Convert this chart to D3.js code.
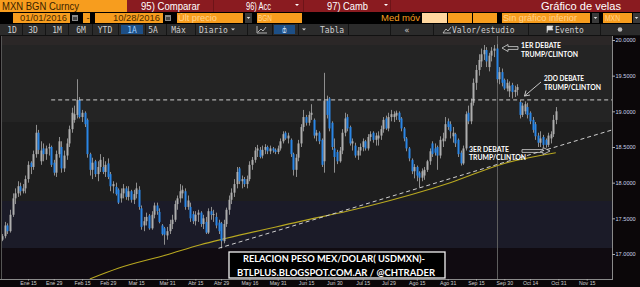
<!DOCTYPE html>
<html><head><meta charset="utf-8">
<script src="https://cdnjs.cloudflare.com/ajax/libs/d3/7.8.5/d3.min.js"></script>
<style>body{margin:0;background:#000;overflow:hidden}svg{display:block}</style>
</head><body>
<svg id="c" width="640" height="287"></svg>
<script>
// ---------- DATA (USD/MXN daily) ----------
const O=[17.20,17.25,17.40,17.32,17.55,17.78,17.85,17.95,17.88,17.92,18.05,18.28,18.22,18.40,18.70,18.30,18.48,18.40,18.48,18.50,18.28,18.14,18.40,18.50,18.20,18.38,18.55,18.75,18.88,18.95,19.16,18.92,18.98,18.88,18.40,18.18,18.30,18.12,18.22,18.22,18.15,18.27,18.12,17.95,17.94,17.90,17.78,17.85,17.92,17.80,17.88,17.76,17.84,17.90,17.64,17.40,17.46,17.54,17.36,17.55,17.68,17.59,17.40,17.36,17.26,17.32,17.42,17.48,17.70,17.78,17.85,17.88,17.66,17.66,17.56,17.46,17.55,17.58,17.42,17.45,17.30,17.60,17.55,17.52,17.44,17.43,17.18,17.42,17.62,17.76,17.86,17.98,18.20,18.02,18.05,17.98,18.05,18.25,18.32,18.45,18.46,18.38,18.46,18.50,18.44,18.48,18.46,18.43,18.48,18.58,18.70,18.62,18.60,18.40,18.18,18.35,18.55,18.78,18.92,18.84,18.95,18.88,18.66,18.70,18.60,18.30,19.15,19.18,18.84,18.48,18.43,18.30,18.45,18.70,18.92,18.78,18.55,18.52,18.38,18.45,18.50,18.58,18.48,18.64,18.70,18.60,18.62,18.66,18.75,18.90,18.76,18.92,18.92,18.94,18.98,18.90,18.76,18.62,18.48,18.32,18.16,18.22,18.14,18.07,18.10,18.18,18.30,18.55,18.48,18.50,18.38,18.58,18.62,18.86,18.82,18.65,18.68,18.60,18.42,18.27,18.48,18.98,18.86,19.12,19.40,19.58,19.70,19.80,19.86,19.62,19.78,19.85,19.88,19.45,19.55,19.44,19.32,19.28,19.37,19.27,19.30,19.13,18.95,19.00,19.06,18.98,18.88,18.82,18.66,18.56,18.64,18.60,18.53,18.62,18.68,18.88];
const H=[17.28,17.45,17.43,17.62,17.85,17.92,18.02,18.00,17.98,18.10,18.30,18.30,18.45,18.81,18.74,18.58,18.55,18.52,18.55,18.52,18.32,18.45,18.64,18.58,18.45,18.62,18.80,19.05,19.08,19.45,19.20,19.02,19.00,18.90,18.42,18.35,18.32,18.30,18.40,18.36,18.30,18.34,18.15,18.02,18.00,17.92,17.92,17.98,17.95,17.95,17.90,17.90,18.00,17.95,17.68,17.52,17.58,17.56,17.60,17.72,17.72,17.64,17.42,17.38,17.38,17.48,17.55,17.75,17.82,17.98,17.96,17.92,17.82,17.72,17.60,17.60,17.62,17.60,17.55,17.52,17.64,17.66,17.62,17.58,17.48,17.45,17.48,17.65,17.82,17.92,18.05,18.22,18.22,18.10,18.08,18.10,18.30,18.36,18.50,18.53,18.50,18.52,18.54,18.52,18.52,18.50,18.48,18.52,18.62,18.72,18.72,18.70,18.62,18.42,18.40,18.60,18.82,19.02,18.95,19.00,19.10,18.90,18.74,18.72,18.62,19.54,19.22,19.20,18.86,18.62,18.46,18.50,18.75,18.98,18.96,18.80,18.62,18.56,18.50,18.55,18.62,18.60,18.68,18.72,18.72,18.70,18.72,18.80,18.92,18.94,18.98,19.02,19.00,19.01,19.00,18.92,18.78,18.64,18.50,18.34,18.26,18.24,18.16,18.20,18.22,18.32,18.48,18.58,18.55,18.52,18.65,18.70,18.92,18.90,18.86,18.78,18.70,18.62,18.45,18.52,19.00,19.08,19.18,19.46,19.65,19.80,19.88,19.93,19.90,19.82,19.90,19.93,19.94,19.62,19.60,19.46,19.45,19.42,19.40,19.36,19.38,19.16,19.12,19.14,19.12,19.00,18.92,18.85,18.70,18.72,18.67,18.62,18.70,18.72,18.95,19.06];
const L=[17.18,17.22,17.28,17.30,17.52,17.70,17.80,17.82,17.85,17.85,18.00,18.12,18.18,18.35,18.40,18.25,18.30,18.32,18.38,18.22,18.10,18.08,18.35,18.14,18.15,18.32,18.50,18.70,18.84,18.90,18.90,18.85,18.78,18.35,18.10,18.05,18.08,18.02,18.15,18.12,18.08,18.05,17.88,17.85,17.82,17.70,17.72,17.78,17.76,17.75,17.72,17.70,17.78,17.62,17.34,17.32,17.40,17.34,17.34,17.50,17.55,17.43,17.26,17.13,17.20,17.28,17.35,17.45,17.62,17.72,17.78,17.62,17.62,17.45,17.42,17.40,17.45,17.38,17.35,17.28,17.28,17.48,17.45,17.36,17.28,17.08,17.15,17.38,17.55,17.70,17.80,17.92,17.98,17.92,17.94,17.92,18.02,18.18,18.28,18.36,18.34,18.34,18.40,18.40,18.40,18.42,18.40,18.40,18.45,18.55,18.60,18.55,18.36,18.10,18.08,18.30,18.50,18.72,18.80,18.80,18.88,18.62,18.58,18.54,18.22,18.14,18.90,18.72,18.46,18.14,18.26,18.28,18.40,18.65,18.72,18.52,18.45,18.35,18.32,18.38,18.44,18.45,18.45,18.58,18.56,18.52,18.52,18.60,18.70,18.74,18.72,18.86,18.85,18.88,18.85,18.72,18.58,18.44,18.30,18.12,18.06,18.02,17.93,18.02,18.04,18.15,18.25,18.36,18.38,18.18,18.34,18.50,18.58,18.74,18.62,18.56,18.50,18.36,18.24,18.25,18.45,18.82,18.82,19.08,19.30,19.50,19.62,19.72,19.62,19.56,19.70,19.76,19.40,19.38,19.35,19.30,19.28,19.20,19.18,19.20,19.22,18.90,18.92,18.96,18.90,18.82,18.70,18.60,18.50,18.50,18.50,18.49,18.50,18.55,18.64,18.82];
const C=[17.25,17.40,17.32,17.55,17.78,17.85,17.95,17.88,17.92,18.05,18.25,18.22,18.40,18.70,18.46,18.45,18.40,18.48,18.50,18.25,18.14,18.40,18.58,18.20,18.38,18.55,18.75,18.98,18.96,19.16,18.92,18.98,18.82,18.40,18.18,18.28,18.12,18.22,18.32,18.15,18.25,18.08,17.95,17.98,17.84,17.72,17.85,17.92,17.80,17.88,17.76,17.84,17.92,17.66,17.38,17.46,17.52,17.36,17.55,17.68,17.60,17.45,17.28,17.27,17.32,17.42,17.48,17.70,17.78,17.88,17.90,17.66,17.75,17.50,17.46,17.55,17.58,17.42,17.50,17.30,17.60,17.55,17.56,17.40,17.32,17.18,17.42,17.62,17.76,17.86,17.98,18.15,18.02,18.05,17.98,18.05,18.25,18.32,18.45,18.48,18.36,18.46,18.50,18.44,18.48,18.45,18.43,18.48,18.58,18.68,18.62,18.66,18.40,18.18,18.35,18.55,18.78,18.92,18.84,18.95,18.98,18.66,18.70,18.58,18.25,19.15,18.95,18.76,18.50,18.36,18.30,18.45,18.70,18.90,18.76,18.55,18.58,18.38,18.45,18.50,18.58,18.48,18.64,18.68,18.60,18.66,18.66,18.75,18.88,18.76,18.92,18.96,18.96,18.98,18.88,18.76,18.62,18.48,18.34,18.16,18.22,18.10,18.07,18.16,18.18,18.30,18.44,18.40,18.42,18.38,18.60,18.62,18.82,18.78,18.72,18.70,18.55,18.40,18.27,18.48,18.96,18.86,19.12,19.40,19.58,19.72,19.80,19.86,19.70,19.78,19.85,19.88,19.45,19.55,19.40,19.32,19.40,19.36,19.27,19.30,19.34,18.95,19.08,19.10,18.95,18.86,18.74,18.65,18.56,18.62,18.53,18.53,18.66,18.68,18.88,19.00];
const yTicks=[17.0,17.5,18.0,18.5,19.0,19.5,20.0];
const xTickDates=["2016-01-15","2016-01-29","2016-02-15","2016-02-29","2016-03-15","2016-03-31","2016-04-15","2016-04-29","2016-05-16","2016-05-31","2016-06-15","2016-06-30","2016-07-15","2016-07-29","2016-08-15","2016-08-31","2016-09-15","2016-09-30","2016-10-14","2016-10-31","2016-11-15"];
const xTickLabels=["Ene 15","Ene 29","Feb 15","Feb 29","Mar 15","Mar 31","Abr 15","Abr 29","May 16","May 31","Jun 15","Jun 30","Jul 15","Jul 29","Ago 15","Ago 31","Sep 15","Sep 30","Oct 14","Oct 31","Nov 15"];
const maDates=["2016-02-18","2016-03-04","2016-03-31","2016-04-19","2016-05-03","2016-06-10","2016-07-19","2016-09-01","2016-09-30","2016-10-28"];
const maValues=[16.65,16.80,16.99,17.13,17.22,17.45,17.67,18.00,18.27,18.42];
const resistanceLevel=19.16, resistanceFrom="2016-01-28";
const trendDates=["2016-04-28","2016-10-26"], trendValues=[17.08,18.48];
const cursorDate="2016-09-27";
const debates=[{l1:"1ER DEBATE",l2:"TRUMP/CLINTON"},{l1:"2DO DEBATE",l2:"TRUMP/CLINTON"},{l1:"3ER DEBATE",l2:"TRUMP/CLINTON"}];
const titleLines=["RELACION PESO MEX/DOLAR( USDMXN)-","BTLPLUS.BLOGSPOT.COM.AR / @CHTRADER"];

// ---------- helpers ----------
const start=new Date(2016,0,1);
function tIndex(s){const p=s.split("-").map(Number);const d=new Date(p[0],p[1]-1,p[2]);let n=0;for(let t=new Date(start);t<d;t.setDate(t.getDate()+1)){const w=t.getDay();if(w!==0&&w!==6)n++;}return n;}

const svg=d3.select("#c");
const W=640,Hh=287;
const PL=2,PR=612,PT=36,PB=279;
const x=d3.scaleLinear().domain([10,227]).range([28,586.7]);
const y=d3.scaleLinear().domain([17,20]).range([254,40]);

// background
svg.append("rect").attr("width",W).attr("height",Hh).attr("fill","#0b0709");
const bands=[[PT,45,"#2b2727"],[45,122,"#242424"],[122,201,"#1e1e1e"],[201,248,"#1b1b28"],[248,PB,"#100b11"]];
bands.forEach(b=>svg.append("rect").attr("x",PL).attr("y",b[0]).attr("width",PR-PL).attr("height",b[1]-b[0]).attr("fill",b[2]));
svg.append("line").attr("x1",1.5).attr("x2",1.5).attr("y1",PT).attr("y2",PB).attr("stroke","#555");

// ---------- toolbar ----------
const tb=svg.append("g");
tb.append("rect").attr("x",0).attr("y",0).attr("width",640).attr("height",12).attr("fill","#8a1b20");
tb.append("rect").attr("x",0).attr("y",0).attr("width",127).attr("height",12).attr("fill","#f79d1e");
[213,303,390].forEach(v=>tb.append("rect").attr("x",v).attr("y",0).attr("width",1).attr("height",12).attr("fill","#6e1418"));
const t1=(t,xx,opt={})=>tb.append("text").attr("x",xx).attr("y",opt.y||10).attr("fill",opt.fill||"#fff").attr("font-family",opt.ff||"Liberation Sans, Arial, sans-serif").attr("font-size",opt.fs||10.5).attr("text-anchor",opt.anchor||"start").text(t);
t1("MXN BGN Curncy",2,{fill:"#3a2300",fs:10.5}).attr("textLength",77).attr("lengthAdjust","spacingAndGlyphs");
t1("95) Comparar",141).attr("textLength",59).attr("lengthAdjust","spacingAndGlyphs");
t1("96) Acc",246).attr("textLength",25).attr("lengthAdjust","spacingAndGlyphs");
t1("97) Camb",327).attr("textLength",41).attr("lengthAdjust","spacingAndGlyphs");
t1("Gráfico de velas",621,{anchor:"end",fs:11}).attr("textLength",80).attr("lengthAdjust","spacingAndGlyphs");
const tri=(cx,cy,s,f)=>tb.append("path").attr("d",`M${cx-s},${cy-s/2}L${cx+s},${cy-s/2}L${cx},${cy+s/2}Z`).attr("fill",f);
tri(297,5,2,"#fff");tri(386,5,2,"#fff");
// row 2
tb.append("rect").attr("x",0).attr("y",12).attr("width",640).attr("height",12).attr("fill","#000");
const ob=(x0,x1,f)=>tb.append("rect").attr("x",x0).attr("y",13).attr("width",x1-x0).attr("height",10).attr("fill",f||"#f79d1e");
ob(13,70);ob(83,90);ob(95,163);ob(177,243);ob(257,302);ob(422,447,"#ffd7a0");ob(448,472);ob(473,497);ob(502,590);ob(603,632);
const cal=xx=>{tb.append("rect").attr("x",xx).attr("y",15).attr("width",6).attr("height",6).attr("fill","#8a8a8a");tb.append("rect").attr("x",xx+1).attr("y",17).attr("width",4).attr("height",3).attr("fill","#444");};
cal(72);cal(165);
const dd=xx=>{tb.append("rect").attr("x",xx).attr("y",13).attr("width",7).attr("height",10).attr("fill","#3a3a3a");tri(xx+3.5,18,1.8,"#ddd");};
dd(245);dd(592);dd(633);
const t2=(t,xx,f,anchor,len)=>{const e=tb.append("text").attr("x",xx).attr("y",21.3).attr("fill",f).attr("font-family","Liberation Sans, Arial, sans-serif").attr("font-size",9).attr("text-anchor",anchor||"start").text(t);if(len)e.attr("textLength",len).attr("lengthAdjust","spacingAndGlyphs");return e;};
t2("01/01/2016",67,"#4a2a00","end",47);
t2("-",86.5,"#4a2a00");
t2("10/28/2016",160,"#4a2a00","end",47);
t2("Últ precio",178,"#ffd28c",null,39);
t2("BGN",258,"#ffd28c",null,14);
t2("Med móv",381,"#f79d1e",null,39);
t2("Sin gráfico inferior",503,"#ffd28c",null,74);
t2("MXN",605,"#ffd28c",null,15);
// row 3
tb.append("rect").attr("x",0).attr("y",24).attr("width",640).attr("height",11).attr("fill","#2b2b2b");
tb.append("rect").attr("x",0).attr("y",35).attr("width",640).attr("height",1).attr("fill","#111");
[22,45,68,92,118,145,166,195,247,272,298,348,390,433,528,600].forEach(v=>tb.append("rect").attr("x",v).attr("y",24).attr("width",1).attr("height",11).attr("fill","#151515"));
tb.append("rect").attr("x",121).attr("y",25).attr("width",22).attr("height",9).attr("fill","#1d4f86");
tb.append("rect").attr("x",274).attr("y",25).attr("width",21).attr("height",9).attr("fill","#1d4f86");
const t3=(t,xx,f,anchor)=>tb.append("text").attr("x",xx).attr("y",32.5).attr("fill",f||"#cfcfcf").attr("font-family","DejaVu Sans Mono, monospace").attr("font-size",8).attr("text-anchor",anchor||"middle").text(t);
t3("1D",12);t3("3D",33);t3("1M",57);t3("6M",81);t3("YTD",105);t3("1A",132,"#9fd0ff");t3("5A",153);t3("Máx",178.5);
t3("Diario",199,null,"start");tri(233,29.5,2,"#cfcfcf");
tb.append("path").attr("d","M257,26V33H267M258,32L261,29L263,31L266,27").attr("fill","none").attr("stroke","#d0d0d0").attr("stroke-width",0.8);
t3("ȸ",284.5,"#d8e8ff");tri(304,29.5,2,"#cfcfcf");
t3("Tabla",320,null,"start");t3("«",407);
tb.append("path").attr("d","M443,33L446,29L448,31L451,27M443,33H451").attr("fill","none").attr("stroke","#d0d0d0").attr("stroke-width",0.8);
t3("Valor/estudio",452,null,"start");
tb.append("path").attr("d","M547,33V26H553L552,28L553,30H548").attr("fill","#e0e0e0").attr("stroke","#e0e0e0").attr("stroke-width",0.6);
t3("Evento",555,null,"start");
tb.append("circle").attr("cx",620).attr("cy",29.5).attr("r",2.3).attr("fill","#bbb");

// ---------- plot ----------
svg.append("defs").append("clipPath").attr("id","pc").append("rect").attr("x",PL).attr("y",PT).attr("width",PR-PL).attr("height",PB-PT);
const g=svg.append("g").attr("clip-path","url(#pc)");
const data=C.map((c,i)=>({i,o:O[i],h:H[i],l:L[i],c}));

// cursor line
const cx=Math.round(x(tIndex(cursorDate)))+0.5;
g.append("line").attr("x1",cx).attr("x2",cx).attr("y1",PT).attr("y2",PB).attr("stroke","#5e5e5e").attr("stroke-width",1);

// moving average
const ma=maDates.map((d,k)=>({i:tIndex(d),v:maValues[k]}));
g.append("path").datum(ma).attr("d",d3.line().x(d=>x(d.i)).y(d=>y(d.v)).curve(d3.curveMonotoneX)).attr("fill","none").attr("stroke","#b8a820").attr("stroke-width",1.1);

// wicks & bodies
g.selectAll("line.wk").data(data).join("line").attr("class","wk")
 .attr("x1",d=>Math.round(x(d.i))+0.5).attr("x2",d=>Math.round(x(d.i))+0.5)
 .attr("y1",d=>y(d.h)).attr("y2",d=>y(d.l)).attr("stroke","#8e8e8e").attr("stroke-width",1);
g.selectAll("rect.bd").data(data).join("rect").attr("class","bd")
 .attr("x",d=>Math.round(x(d.i))-0.5).attr("width",2)
 .attr("y",d=>y(Math.max(d.o,d.c))).attr("height",d=>Math.max(1,Math.abs(y(d.o)-y(d.c))))
 .attr("fill",d=>d.c>=d.o?"#aeaeae":"#2a86e6");

// resistance dashed line
g.append("line").attr("x1",x(tIndex(resistanceFrom))).attr("x2",PR).attr("y1",y(resistanceLevel)).attr("y2",y(resistanceLevel))
 .attr("stroke","#cfcfcf").attr("stroke-width",1).attr("stroke-dasharray","4,3");
// trend line
const ta={i:tIndex(trendDates[0]),v:trendValues[0]}, tb2={i:tIndex(trendDates[1]),v:trendValues[1]};
const slope=(tb2.v-ta.v)/(tb2.i-ta.i);
const iEnd=x.invert(PR);
g.append("line").attr("x1",x(ta.i)).attr("y1",y(ta.v)).attr("x2",PR).attr("y2",y(ta.v+slope*(iEnd-ta.i)))
 .attr("stroke","#cfcfcf").attr("stroke-width",1).attr("stroke-dasharray","4,3");

// ---------- axes ----------
svg.append("line").attr("x1",PR+0.5).attr("x2",PR+0.5).attr("y1",PT).attr("y2",PB+1).attr("stroke","#8a8a8a");
svg.append("line").attr("x1",0).attr("x2",PR+1).attr("y1",PB+0.5).attr("y2",PB+0.5).attr("stroke","#8a8a8a");
const yAx=svg.append("g").attr("transform",`translate(${PR},0)`).call(d3.axisRight(y).tickValues(yTicks).tickSize(3).tickFormat(d3.format(".4f")));
yAx.select(".domain").remove();
yAx.selectAll("line").attr("stroke","#aaa");
yAx.selectAll("text").attr("fill","#c9d3e6").attr("font-family","Liberation Sans, Arial, sans-serif").attr("font-size",5.6).attr("x",3.5);
const xAx=svg.append("g").attr("transform",`translate(0,${PB})`).call(d3.axisBottom(x).tickValues(xTickDates.map(tIndex)).tickSize(1.5).tickFormat((d,k)=>xTickLabels[k]));
xAx.select(".domain").remove();
xAx.selectAll("line").attr("stroke","#aaa");
xAx.selectAll("text").attr("fill","#cfcfcf").attr("font-family","Liberation Sans, Arial, sans-serif").attr("font-size",5.2).attr("y",2).attr("dy","0.71em");

// ---------- annotations ----------
const an=svg.append("g").attr("font-family","Lato, Open Sans, sans-serif").attr("font-weight","bold").attr("fill","#fff").attr("font-size",7.2);
const anPos=[[521,47.5,56.5],[544,81,90],[469,151.5,160]];
debates.forEach((d,k)=>{const p=anPos[k];
 an.append("text").attr("x",p[0]).attr("y",p[1]).text(d.l1).attr("textLength",40).attr("lengthAdjust","spacingAndGlyphs");
 an.append("text").attr("x",p[0]).attr("y",p[2]).text(d.l2).attr("textLength",57).attr("lengthAdjust","spacingAndGlyphs");});
an.append("path").attr("d","M502,48L508,44.5V46.6H518V49.4H508V51.5Z").attr("fill","none").attr("stroke","#d8d8d8").attr("stroke-width",0.8);
an.append("path").attr("d","M550,151L543,147.5V149.6H522V152.4H543V154.5Z").attr("fill","none").attr("stroke","#d8d8d8").attr("stroke-width",0.8);
an.append("path").attr("d","M541,82L524.5,96M524.5,96L526,90.5M524.5,96L530,95").attr("fill","none").attr("stroke","#d8d8d8").attr("stroke-width",0.9);

// ---------- title box ----------
svg.append("rect").attr("x",229).attr("y",252).attr("width",216).attr("height",26).attr("fill","#000").attr("stroke","#f2f2f2").attr("stroke-width",1.3);
svg.append("text").attr("x",334).attr("y",261.8).attr("text-anchor","middle").attr("fill","#fff").attr("font-family","Lato, Open Sans, sans-serif").attr("font-weight","bold").attr("font-size",10).attr("textLength",182).attr("lengthAdjust","spacingAndGlyphs").text(titleLines[0]);
svg.append("text").attr("x",336).attr("y",275.8).attr("text-anchor","middle").attr("fill","#fff").attr("font-family","Lato, Open Sans, sans-serif").attr("font-weight","bold").attr("font-size",10).attr("textLength",198).attr("lengthAdjust","spacingAndGlyphs").text(titleLines[1]);
</script>
</body></html>
